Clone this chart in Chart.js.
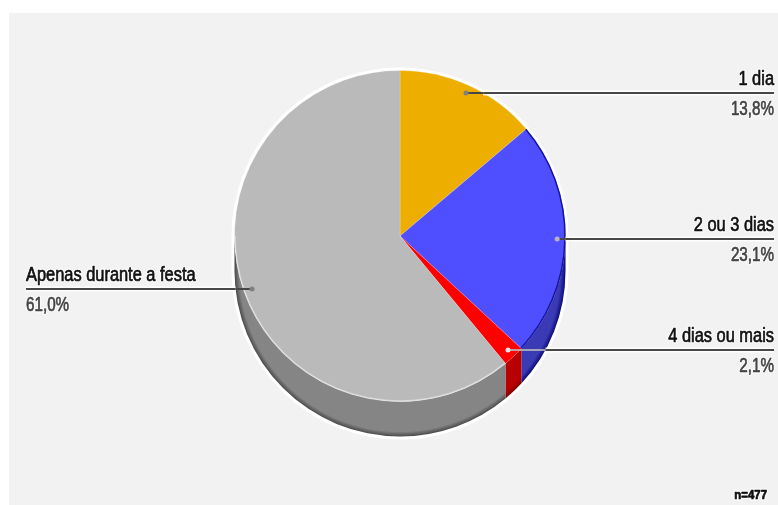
<!DOCTYPE html>
<html lang="pt">
<head>
<meta charset="utf-8">
<title>Dias</title>
<script src="https://cdn.jsdelivr.net/npm/chart.js@4/dist/chart.umd.min.js"></script>
<style>
  html, body { margin: 0; padding: 0; background: #fff; }
  #wrap { position: relative; width: 778px; height: 505px; overflow: hidden; }
  #panel { position: absolute; left: 9px; top: 13px; right: 0; bottom: 0; background: #f2f2f2; }
  canvas { position: absolute; left: 0; top: 0; }
</style>
</head>
<body>
<div id="wrap">
  <div id="panel"></div>
  <canvas id="pie" width="778" height="505"></canvas>
</div>
<script>
const categories = ['1 dia', '2 ou 3 dias', '4 dias ou mais', 'Apenas durante a festa'];
const values = [13.8, 23.1, 2.1, 61.0];
const topColors = ['#eeae00', '#4f4fff', '#ff0000', '#bababa'];
const sideColors = ['#b98700', '#3a3ab4', '#b80000', '#858585'];
const rimColors = ['#8a6500', '#0a0a78', '#800000', '#484848'];
const dotColors = ['#808080', '#b4b4c8', '#f4e0e0', '#808080'];
const sampleNote = 'n=477';

const DEPTH = 35;
const FONT = '"Liberation Sans", Arial, sans-serif';

// side wall of the pie, only the part facing down is visible
const sidesPlugin = {
  id: 'sides',
  beforeDatasetsDraw(chart) {
    const ctx = chart.ctx;
    const arcs = chart.getDatasetMeta(0).data;
    const cx = arcs[0].x, cy = arcs[0].y, R = arcs[0].outerRadius;

    ctx.save();
    ctx.strokeStyle = '#ffffff';
    ctx.lineWidth = 4;
    ctx.beginPath();
    ctx.arc(cx, cy, R + 1, -Math.PI, 0);
    ctx.arc(cx, cy + DEPTH, R + 1, 0, Math.PI);
    ctx.closePath();
    ctx.stroke();

    arcs.forEach((arc, i) => {
      const a = Math.max(arc.startAngle, 0);
      const b = Math.min(arc.endAngle, Math.PI);
      if (b <= a) return;
      const grad = ctx.createRadialGradient(cx, cy + DEPTH, R - 5, cx, cy + DEPTH, R);
      grad.addColorStop(0, sideColors[i]);
      grad.addColorStop(1, rimColors[i]);
      ctx.fillStyle = grad;
      ctx.beginPath();
      ctx.arc(cx, cy, R, a, b);
      ctx.arc(cx, cy + DEPTH, R, b, a, true);
      ctx.closePath();
      ctx.fill();
    });
    ctx.restore();
  },
  afterDatasetsDraw(chart) {
    const ctx = chart.ctx;
    const arcs = chart.getDatasetMeta(0).data;
    const blue = arcs[1], gray = arcs[3];
    ctx.save();
    // thin dark edge on the blue slice
    ctx.strokeStyle = '#1414a0';
    ctx.lineWidth = 1.5;
    ctx.beginPath();
    ctx.arc(blue.x, blue.y, blue.outerRadius - 0.5, blue.startAngle, blue.endAngle);
    ctx.stroke();
    // light edge where the grey top meets its wall
    ctx.strokeStyle = 'rgba(255,255,255,0.45)';
    ctx.beginPath();
    ctx.arc(gray.x, gray.y, gray.outerRadius - 0.5, gray.startAngle, Math.PI);
    ctx.stroke();
    ctx.restore();
  }
};

function drawText(ctx, text, x, y, align, font, color, squeeze) {
  ctx.save();
  ctx.font = font;
  ctx.textAlign = align;
  ctx.textBaseline = 'alphabetic';
  ctx.translate(x, y);
  ctx.scale(squeeze, 1);
  // white halo first, then the glyphs on top of it
  ctx.strokeStyle = 'rgba(255,255,255,0.75)';
  ctx.lineWidth = 3;
  ctx.lineJoin = 'round';
  ctx.strokeText(text, 0, 0);
  ctx.fillStyle = color;
  ctx.strokeStyle = color;
  ctx.lineWidth = 0.7;
  ctx.fillText(text, 0, 0);
  ctx.strokeText(text, 0, 0);
  ctx.restore();
}

// x where a horizontal line leaves the pie outline (top disc plus wall)
function outlineX(arc, y, onRight) {
  let dy = 0;
  if (y < arc.y) dy = y - arc.y;
  else if (y > arc.y + DEPTH) dy = y - arc.y - DEPTH;
  const half = Math.sqrt(arc.outerRadius * arc.outerRadius - dy * dy);
  return onRight ? arc.x + half : arc.x - half;
}

// leader lines, dots and the two-line labels
const calloutPlugin = {
  id: 'callouts',
  afterDraw(chart) {
    const ctx = chart.ctx;
    const arcs = chart.getDatasetMeta(0).data;
    arcs.forEach((arc, i) => {
      const mid = (arc.startAngle + arc.endAngle) / 2;
      const r = arc.outerRadius * 0.95;
      const px = arc.x + Math.cos(mid) * r;
      const py = Math.round(arc.y + Math.sin(mid) * r);
      const onRight = Math.cos(mid) > 0;
      const end = onRight ? 774 : 26;
      const exit = outlineX(arc, py, onRight);

      ctx.save();
      ctx.strokeStyle = 'rgba(255,255,255,0.9)';
      ctx.lineWidth = 5;
      ctx.beginPath();
      ctx.moveTo(exit, py);
      ctx.lineTo(end, py);
      ctx.stroke();

      ctx.lineWidth = 2;
      ctx.strokeStyle = i === 2 ? 'rgba(190,190,190,0.8)' : '#474747';
      ctx.beginPath();
      ctx.moveTo(px, py);
      ctx.lineTo(exit, py);
      ctx.stroke();
      ctx.strokeStyle = '#474747';
      ctx.beginPath();
      ctx.moveTo(exit, py);
      ctx.lineTo(end, py);
      ctx.stroke();

      ctx.fillStyle = dotColors[i];
      ctx.beginPath();
      ctx.arc(px, py, 2.5, 0, Math.PI * 2);
      ctx.fill();
      ctx.restore();

      const align = onRight ? 'right' : 'left';
      drawText(ctx, categories[i], end, py - 8, align, '20px ' + FONT, '#111111', 0.82);
      drawText(ctx, values[i].toFixed(1).replace('.', ',') + '%', end, py + 22, align, '20px ' + FONT, '#444444', 0.76);
    });
    drawText(ctx, sampleNote, 767, 499, 'right', 'bold 12px ' + FONT, '#111111', 0.95);
  }
};

new Chart('pie', {
  type: 'pie',
  data: {
    labels: categories,
    datasets: [{
      data: values,
      backgroundColor: topColors,
      borderColor: 'rgba(255,255,255,0.2)',
      borderWidth: 1
    }]
  },
  options: {
    responsive: false,
    animation: false,
    layout: { padding: { left: 233, right: 211, top: 70, bottom: 103 } },
    plugins: { legend: { display: false }, tooltip: { enabled: false }, title: { display: false } }
  },
  plugins: [sidesPlugin, calloutPlugin]
});
</script>
</body>
</html>
